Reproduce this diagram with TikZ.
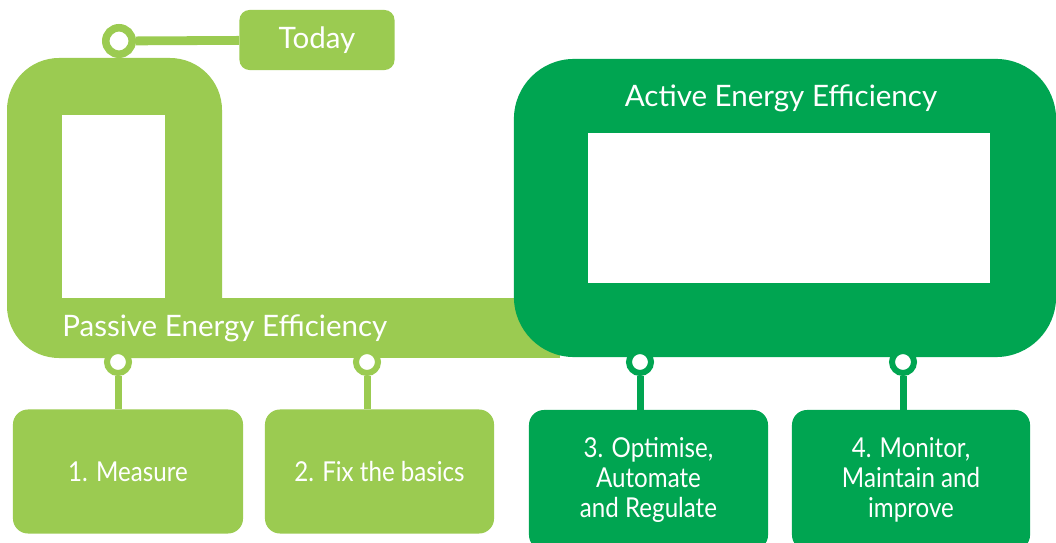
\documentclass[tikz,border=0pt]{standalone}
\usepackage{fontspec}
\setmainfont{Lato}
\newfontfamily\narrowfont[FakeStretch=0.88]{Lato}
\usepackage{tikz}
\usetikzlibrary{positioning}
\definecolor{passivegreen}{RGB}{155,203,81}
\definecolor{activegreen}{RGB}{0,165,81}

\begin{document}
\begin{tikzpicture}[x=0.025cm, y=-0.025cm,
        stepbox/.style={rounded corners=0.375cm, minimum height=3.1cm, text=white, align=center,
                        font=\narrowfont\fontsize{19.5}{21.5}\selectfont},
        ring/.style={circle, fill=white, line width=0.15cm, minimum size=0.55cm, inner sep=0pt},
        stem/.style={line width=0.175cm},
        title/.style={text=white, inner sep=0pt}]
        \tikzstyle{every node}=[font=\fontsize{21}{25}\selectfont]
            \useasboundingbox (0,0) rectangle (1056,543);

            % passive part
            \fill[passivegreen, rounded corners=1.3cm] (7,58) rectangle (222,358);
            \fill[passivegreen] (120,298) rectangle (560,358);
            \fill[white] (62,115) rectangle (165,298);
            \node[title, anchor=west] (passive) at (62,328) {Passive Energy Efficiency};

            % active part
            \node[fill=activegreen, rounded corners=1.5cm, minimum width=13.55cm, minimum height=7.45cm] (active) at (785,208) {};
            \node[fill=white, minimum width=10.05cm, minimum height=3.75cm] (window) at (789,208) {};
            \node[title] (activetitle) at (781,98) {Active Energy Efficiency};

            % today
            \node[ring, draw=passivegreen, line width=0.19cm, minimum size=0.66cm] (now) at (119,41) {};
            \node[fill=passivegreen, text=white, rounded corners=0.25cm, minimum width=3.875cm, minimum height=1.5cm] (today) at (317,40) {Today};
            \draw[passivegreen, line width=0.22cm] (now) -- (today);

            % steps
            \node[stepbox, fill=passivegreen, minimum width=5.75cm] (measure) at (128,471.5) {1. Measure};
            \node[stepbox, fill=passivegreen, minimum width=5.725cm] (basics) at (379.5,471.5) {2. Fix the basics};
            \node[stepbox, fill=activegreen, minimum width=5.975cm, minimum height=3.5cm] (optimise) at (648.5,480) {3. Optimise,\\Automate\\and Regulate};
            \node[stepbox, fill=activegreen, minimum width=5.95cm, minimum height=3.5cm] (monitor) at (911,480) {4. Monitor,\\Maintain and\\improve};

            \node[ring, draw=passivegreen] (c1) at (118,362) {};
            \node[ring, draw=passivegreen] (c2) at (367,362) {};
            \node[ring, draw=activegreen] (c3) at (640,362) {};
            \node[ring, draw=activegreen] (c4) at (903,362) {};

            \draw[stem, passivegreen] (c1) -- (c1 |- measure.north);
            \draw[stem, passivegreen] (c2) -- (c2 |- basics.north);
            \draw[stem, activegreen] (c3) -- (c3 |- optimise.north);
            \draw[stem, activegreen] (c4) -- (c4 |- monitor.north);
        \end{tikzpicture}
\end{document}
